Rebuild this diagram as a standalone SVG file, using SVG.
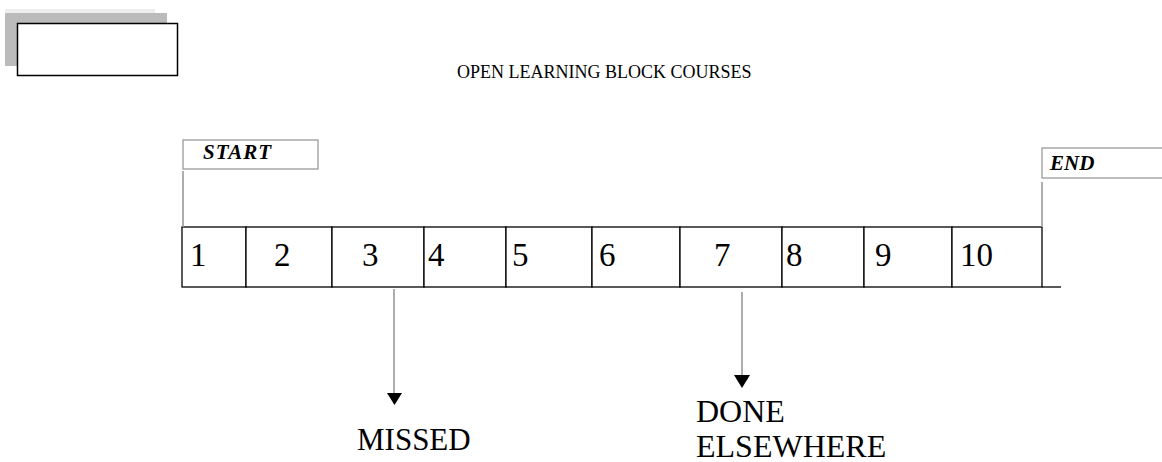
<svg xmlns="http://www.w3.org/2000/svg" width="1162" height="462" viewBox="0 0 1162 462">
<style>
.serif{font-family:"Liberation Serif","Times New Roman",serif;fill:#000}
.num{font-size:33px}
.lbl{font-size:31px}
.lbl2{font-size:32px}
.tag{font-size:21px;font-weight:bold;font-style:italic}
.cell{fill:#fff;stroke:#000;stroke-width:1.3}
.gbox{fill:#fff;stroke:#9a9a9a;stroke-width:1.3}
.conn{stroke:#999;stroke-width:1.6;fill:none}
.head{fill:#000}
</style>
<rect width="1162" height="462" fill="#fff"/>
<g id="corner-box">
<rect x="5" y="9" width="150" height="5" fill="#eeeeee"/>
<rect x="5" y="13" width="162" height="53" fill="#bbbbbb"/>
<rect x="17.5" y="23.5" width="160" height="52" fill="#fff" stroke="#000" stroke-width="1.5"/>
</g>
<g id="title"><text class="serif" x="457" y="78" font-size="18">OPEN LEARNING BLOCK COURSES</text></g>
<g id="start">
<rect class="gbox" x="183" y="140" width="135" height="29"/>
<text class="serif tag" x="203" y="159" letter-spacing="1">START</text>
</g>
<g id="end">
<rect class="gbox" x="1042" y="148" width="130" height="30"/>
<text class="serif tag" x="1050" y="170">END</text>
</g>
<g id="cells">
<rect class="cell" x="182" y="227" width="64" height="60"/>
<rect class="cell" x="246" y="227" width="86" height="60"/>
<rect class="cell" x="332" y="227" width="92" height="60"/>
<rect class="cell" x="424" y="227" width="82" height="60"/>
<rect class="cell" x="506" y="227" width="86" height="60"/>
<rect class="cell" x="592" y="227" width="88" height="60"/>
<rect class="cell" x="680" y="227" width="102" height="60"/>
<rect class="cell" x="782" y="227" width="82" height="60"/>
<rect class="cell" x="864" y="227" width="88" height="60"/>
<rect class="cell" x="952" y="227" width="90" height="60"/>
<line x1="1042" y1="287" x2="1061" y2="287" stroke="#000" stroke-width="1.3"/>
<text class="serif num" x="190" y="266">1</text>
<text class="serif num" x="274" y="266">2</text>
<text class="serif num" x="362" y="266">3</text>
<text class="serif num" x="428" y="266">4</text>
<text class="serif num" x="512" y="266">5</text>
<text class="serif num" x="599" y="266">6</text>
<text class="serif num" x="714" y="266">7</text>
<text class="serif num" x="786" y="266">8</text>
<text class="serif num" x="875" y="266">9</text>
<text class="serif num" x="960" y="266">10</text>
</g>
<g id="missed"><text class="serif lbl" x="357" y="450">MISSED</text></g>
<g id="done"><text class="serif lbl2" x="696" y="422">DONE</text><text class="serif lbl2" x="696" y="457">ELSEWHERE</text></g>
<g id="connectors">
<line class="conn" x1="183" y1="171" x2="183" y2="227"/>
<line class="conn" x1="1042" y1="182" x2="1042" y2="227"/>
<line class="conn" x1="394" y1="289" x2="394" y2="394"/>
<path class="head" d="M387,393 L402,393 L394.5,405 Z"/>
<line class="conn" x1="742" y1="292" x2="742" y2="376"/>
<path class="head" d="M734,375 L750,375 L742,388 Z"/>
</g>
</svg>
